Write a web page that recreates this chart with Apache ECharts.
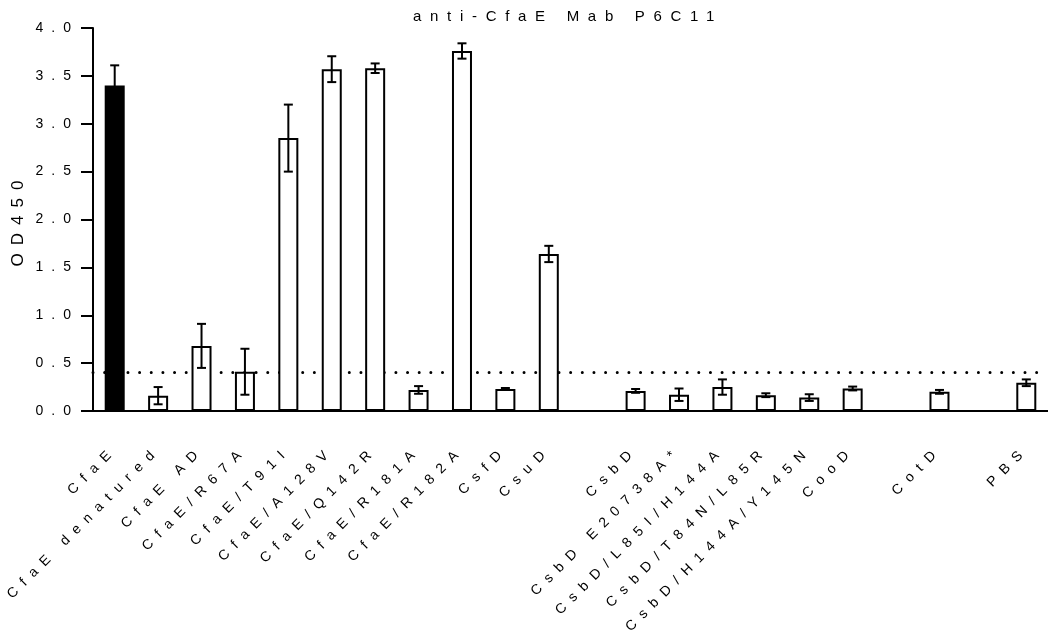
<!DOCTYPE html>
<html><head><meta charset="utf-8">
<script src="https://cdn.jsdelivr.net/npm/echarts@6/dist/echarts.min.js"></script>
<style>
html,body{margin:0;padding:0;background:#fff;}
#main{width:1048px;height:637px;}
</style></head><body><div id="main"></div>
<script>
// Prism-style wide letter spacing for all chart texts (canvas letterSpacing)
(function(){
  const P = CanvasRenderingContext2D.prototype;
  const orig = P.fillText;
  P.fillText = function(t, x, y, m){
    const old = this.letterSpacing;
    this.letterSpacing = /15px/.test(this.font) ? '8.7px' : '8px';
    if (m === undefined) orig.call(this, t, x, y); else orig.call(this, t, x, y, m);
    this.letterSpacing = old;
  };
})();

const categories = ['CfaE','CfaE denatured','CfaE AD','CfaE/R67A','CfaE/T91I','CfaE/A128V','CfaE/Q142R','CfaE/R181A','CfaE/R182A','CsfD','CsuD','','CsbD','CsbD E20738A*','CsbD/L85I/H144A','CsbD/T84N/L85R','CsbD/H144A/Y145N','CooD','','CotD','','PBS'];
const od450 = [3.40,0.16,0.68,0.41,2.85,3.57,3.58,0.22,3.76,0.23,1.64,null,0.21,0.17,0.25,0.165,0.14,0.235,null,0.20,null,0.295];
const errs  = [0.21,0.09,0.23,0.24,0.35,0.135,0.05,0.04,0.08,0.01,0.085,null,0.02,0.065,0.08,0.02,0.035,0.02,null,0.02,null,0.035];
const cutoff = 0.4;
const yMin = 0, yMax = 4, yStep = 0.5;

const FONT = 'Liberation Sans, Arial, sans-serif';
const chart = echarts.init(document.getElementById('main'), null, {renderer:'canvas'});

const barData = od450.map((v,i)=> v==null ? '-' : (i===0 ? {value:v, itemStyle:{color:'#000'}} : v));
const errData = [];
od450.forEach((v,i)=>{ if(v!=null) errData.push([i, v, errs[i]]); });

chart.setOption({
  animation:false,
  backgroundColor:'#fff',
  title:{text:'anti-CfaE Mab P6C11', left:563, top:4, textAlign:'center',
    textStyle:{fontFamily:FONT, fontSize:15, fontWeight:'normal', color:'#000'}},
  grid:{left:93, right:-3, top:28, bottom:226, containLabel:false},
  xAxis:{type:'category', data:categories, boundaryGap:true,
    axisLine:{lineStyle:{color:'#000', width:2}},
    axisTick:{show:false},
    axisLabel:{rotate:45, interval:0, margin:37, fontFamily:FONT, fontSize:14, color:'#000'}},
  yAxis:{type:'value', min:yMin, max:yMax, interval:yStep,
    name:'OD450', nameLocation:'middle', nameGap:66,
    nameTextStyle:{fontFamily:FONT, fontSize:17, color:'#000'},
    splitLine:{show:false},
    axisLine:{show:true, onZero:false, lineStyle:{color:'#000', width:2}},
    axisTick:{show:true, length:12, lineStyle:{color:'#000', width:2}},
    axisLabel:{margin:14, fontFamily:FONT, fontSize:14, color:'#000', formatter:v=>v.toFixed(1)}},
  series:[
    {type:'line', data:[], z:1, silent:true,
      markLine:{z:1, silent:true, symbol:['none','none'], label:{show:false},
        lineStyle:{color:'#000', width:3, type:[0,11.65], cap:'round'},
        data:[{yAxis:cutoff}]}},
    {type:'bar', data:barData, barWidth:20, z:2,
      itemStyle:{color:'#fff', borderColor:'#000', borderWidth:2}},
    {type:'custom', data:errData, z:3, encode:{x:0,y:1},
      renderItem:(params, api)=>{
        const i = api.value(0), v = api.value(1), e = api.value(2);
        const t = api.coord([i, v+e]), b = api.coord([i, v-e]);
        const hw = 4.5, st = {stroke:'#000', lineWidth:2};
        return {type:'group', children:[
          {type:'line', shape:{x1:t[0],y1:t[1],x2:b[0],y2:b[1]}, style:st},
          {type:'line', shape:{x1:t[0]-hw,y1:t[1],x2:t[0]+hw,y2:t[1]}, style:st},
          {type:'line', shape:{x1:b[0]-hw,y1:b[1],x2:b[0]+hw,y2:b[1]}, style:st}
        ]};
      }}
  ]
});
</script></body></html>
